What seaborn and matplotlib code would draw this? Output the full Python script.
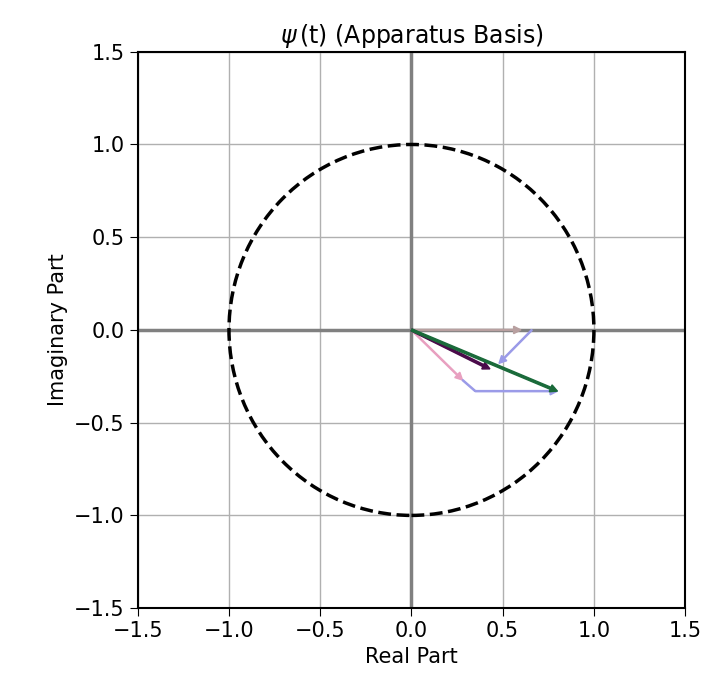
import numpy as np
import matplotlib
matplotlib.use('Agg')
import matplotlib.pyplot as plt
from matplotlib.patches import Circle
import seaborn as sns

# arrow tails / heads (real, imag)
names = ['gray', 'lavender_a', 'pink', 'lavender_b', 'lavender_c', 'purple', 'green']
x0 = [0.00, 0.66, 0.00, 0.28, 0.35, 0.00, 0.00]
y0 = [0.00, 0.00, 0.00, -0.27, -0.33, 0.00, 0.00]
x1 = [0.60, 0.48, 0.28, 0.35, 0.80, 0.43, 0.80]
y1 = [0.00, -0.18, -0.27, -0.33, -0.33, -0.21, -0.33]
colors = ['#b8a0a0', '#9b9be8', '#e8a0c0', '#9b9be8', '#9b9be8', '#4a0a4a', '#1a6a3a']
heads = [True, True, True, False, True, True, True]

ticks = [-1.5, -1.0, -0.5, 0.0, 0.5, 1.0, 1.5]

sns.set_style('whitegrid')
plt.rcParams['font.family'] = ['DejaVu Sans']
plt.rcParams['text.color'] = 'black'
plt.rcParams['axes.labelcolor'] = 'black'
plt.rcParams['xtick.color'] = 'black'
plt.rcParams['ytick.color'] = 'black'

fig = plt.figure(figsize=(7.1, 6.81), dpi=100)
ax = fig.add_axes([0.194, 0.107, 0.771, 0.817])

ax.axhline(0, color='gray', lw=2.5, zorder=1)
ax.axvline(0, color='gray', lw=2.5, zorder=1)
ax.add_patch(Circle((0, 0), 1.0, fill=False, ls='--', lw=2.5, color='black', zorder=2))

for i in range(len(names)):
    dx = x1[i] - x0[i]
    dy = y1[i] - y0[i]
    hw = 0.04 if heads[i] else 0.0
    ax.arrow(x0[i], y0[i], dx, dy, color=colors[i], width=0.006 if i < 5 else 0.012,
             head_width=hw, head_length=hw, length_includes_head=True, zorder=3 + i)

ax.set_xlim(-1.5, 1.5)
ax.set_ylim(-1.5, 1.5)
ax.set_xticks(ticks)
ax.set_yticks(ticks)
ax.tick_params(labelsize=15, length=6, color='black', left=True, bottom=True)
ax.grid(True, color='#b0b0b0', lw=1)
for s in ax.spines.values():
    s.set_color('black')
    s.set_linewidth(1.5)
ax.set_xlabel('Real Part', fontsize=15)
ax.set_ylabel('Imaginary Part', fontsize=15)
ax.set_title(r'$\psi\,$(t) (Apparatus Basis)', fontsize=17)

fig.savefig('out.png', dpi=100)
